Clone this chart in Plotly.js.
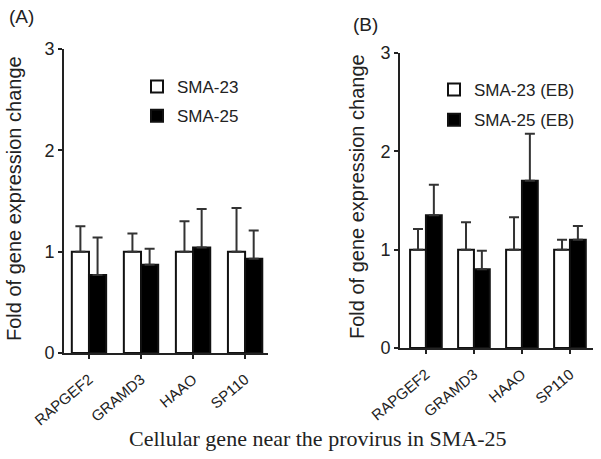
<!DOCTYPE html>
<html><head><meta charset="utf-8">
<script src="https://cdn.plot.ly/plotly-3.0.1.min.js"></script>
<style>html,body{margin:0;padding:0;background:#fff}</style>
</head><body>
<div id="chart" style="width:601px;height:459px"></div>
<script>
const genes = ["RAPGEF2", "GRAMD3", "HAAO", "SP110"];
const seriesA = ["SMA-23", "SMA-25"];
const seriesB = ["SMA-23 (EB)", "SMA-25 (EB)"];
const a23 = [1.0, 1.0, 1.0, 1.0];
const a23err = [0.25, 0.18, 0.30, 0.43];
const a25 = [0.77, 0.87, 1.04, 0.93];
const a25err = [0.37, 0.16, 0.38, 0.28];
const b23 = [1.0, 1.0, 1.0, 1.0];
const b23err = [0.21, 0.28, 0.33, 0.10];
const b25 = [1.35, 0.80, 1.70, 1.10];
const b25err = [0.31, 0.19, 0.48, 0.14];
const yTicks = [0, 1, 2, 3];

const FONT = "Arial, 'Liberation Sans', sans-serif";
const zeros = genes.map(() => 0);
function errY(arr) {
  return {type: 'data', symmetric: false, array: arr, arrayminus: zeros,
          color: '#333', thickness: 2, width: 5};
}
function bar(name, y, err, fill, xa, ya, leg, grp) {
  return {type: 'bar', name: name, x: genes, y: y, xaxis: xa, yaxis: ya,
    legend: leg, legendgroup: grp,
    marker: {color: fill, line: {color: '#111', width: 2}},
    error_y: errY(err), hoverinfo: 'skip'};
}
const traces = [
  bar(seriesA[0], a23, a23err, '#ffffff', 'x', 'y', 'legend', 'a1'),
  bar(seriesA[1], a25, a25err, '#000000', 'x', 'y', 'legend', 'a2'),
  bar(seriesB[0], b23, b23err, '#ffffff', 'x2', 'y2', 'legend2', 'b1'),
  bar(seriesB[1], b25, b25err, '#000000', 'x2', 'y2', 'legend2', 'b2')
];
const W = 601, H = 459;
function xaxis(dom, rng) {
  return {domain: dom, range: rng, showline: true, linecolor: '#222', linewidth: 2,
    ticks: 'outside', ticklen: 4, tickwidth: 2, tickcolor: '#222', tickangle: -40,
    ticklabelstandoff: 6,
    tickfont: {family: FONT, size: 15, color: '#222'}, showgrid: false, zeroline: false,
    fixedrange: true};
}
function yaxis(dom, anchor) {
  return {domain: dom, range: [0, 3], anchor: anchor, tickvals: yTicks, showline: true,
    linecolor: '#222', linewidth: 2, ticks: 'outside', ticklen: 4, tickwidth: 2,
    tickcolor: '#222', tickfont: {family: FONT, size: 18, color: '#222'},
    showgrid: false, zeroline: false, fixedrange: true};
}
const layout = {
  width: W, height: H, margin: {l: 0, r: 0, t: 0, b: 0},
  paper_bgcolor: '#fff', plot_bgcolor: 'rgba(0,0,0,0)',
  barmode: 'group', bargap: 0.34, bargroupgap: 0,
  xaxis: Object.assign(xaxis([64 / W, 268 / W], [-0.48, 3.44]), {anchor: 'y'}),
  yaxis: yaxis([1 - 353 / H, 1 - 49 / H], 'x'),
  xaxis2: Object.assign(xaxis([400 / W, 593 / W], [-0.54, 3.48]), {anchor: 'y2'}),
  yaxis2: yaxis([1 - 348 / H, 1 - 53 / H], 'x2'),
  legend: {x: 137 / W, y: 1 - 69 / H, xanchor: 'left', yanchor: 'top', bgcolor: 'rgba(0,0,0,0)',
    font: {family: FONT, size: 17, color: '#222'}, traceorder: 'grouped', tracegroupgap: 4},
  legend2: {x: 434 / W, y: 1 - 72 / H, xanchor: 'left', yanchor: 'top', bgcolor: 'rgba(0,0,0,0)',
    font: {family: FONT, size: 17, color: '#222'}, traceorder: 'grouped', tracegroupgap: 5},
  annotations: [
    {text: '(A)', x: 7 / W, y: 1 - 17 / H, xref: 'paper', yref: 'paper', xanchor: 'left', yanchor: 'middle',
      showarrow: false, font: {family: FONT, size: 19, color: '#222'}},
    {text: '(B)', x: 351 / W, y: 1 - 24 / H, xref: 'paper', yref: 'paper', xanchor: 'left', yanchor: 'middle',
      showarrow: false, font: {family: FONT, size: 19, color: '#222'}},
    {text: 'Fold of gene expression change', x: 14 / W, y: 1 - 199 / H, xref: 'paper', yref: 'paper',
      textangle: -90, showarrow: false, xanchor: 'center', yanchor: 'middle',
      font: {family: FONT, size: 20, color: '#222'}},
    {text: 'Fold of gene expression change', x: 357 / W, y: 1 - 197 / H, xref: 'paper', yref: 'paper',
      textangle: -90, showarrow: false, xanchor: 'center', yanchor: 'middle',
      font: {family: FONT, size: 20, color: '#222'}},
    {text: 'Cellular gene near the provirus in SMA-25', x: 318 / W, y: 1 - 438 / H, xref: 'paper', yref: 'paper',
      showarrow: false, xanchor: 'center', yanchor: 'middle',
      font: {family: "'Liberation Serif', 'Times New Roman', serif", size: 22, color: '#222'}}
  ]
};
Plotly.newPlot('chart', traces, layout, {displayModeBar: false, staticPlot: true});
</script>
</body></html>
